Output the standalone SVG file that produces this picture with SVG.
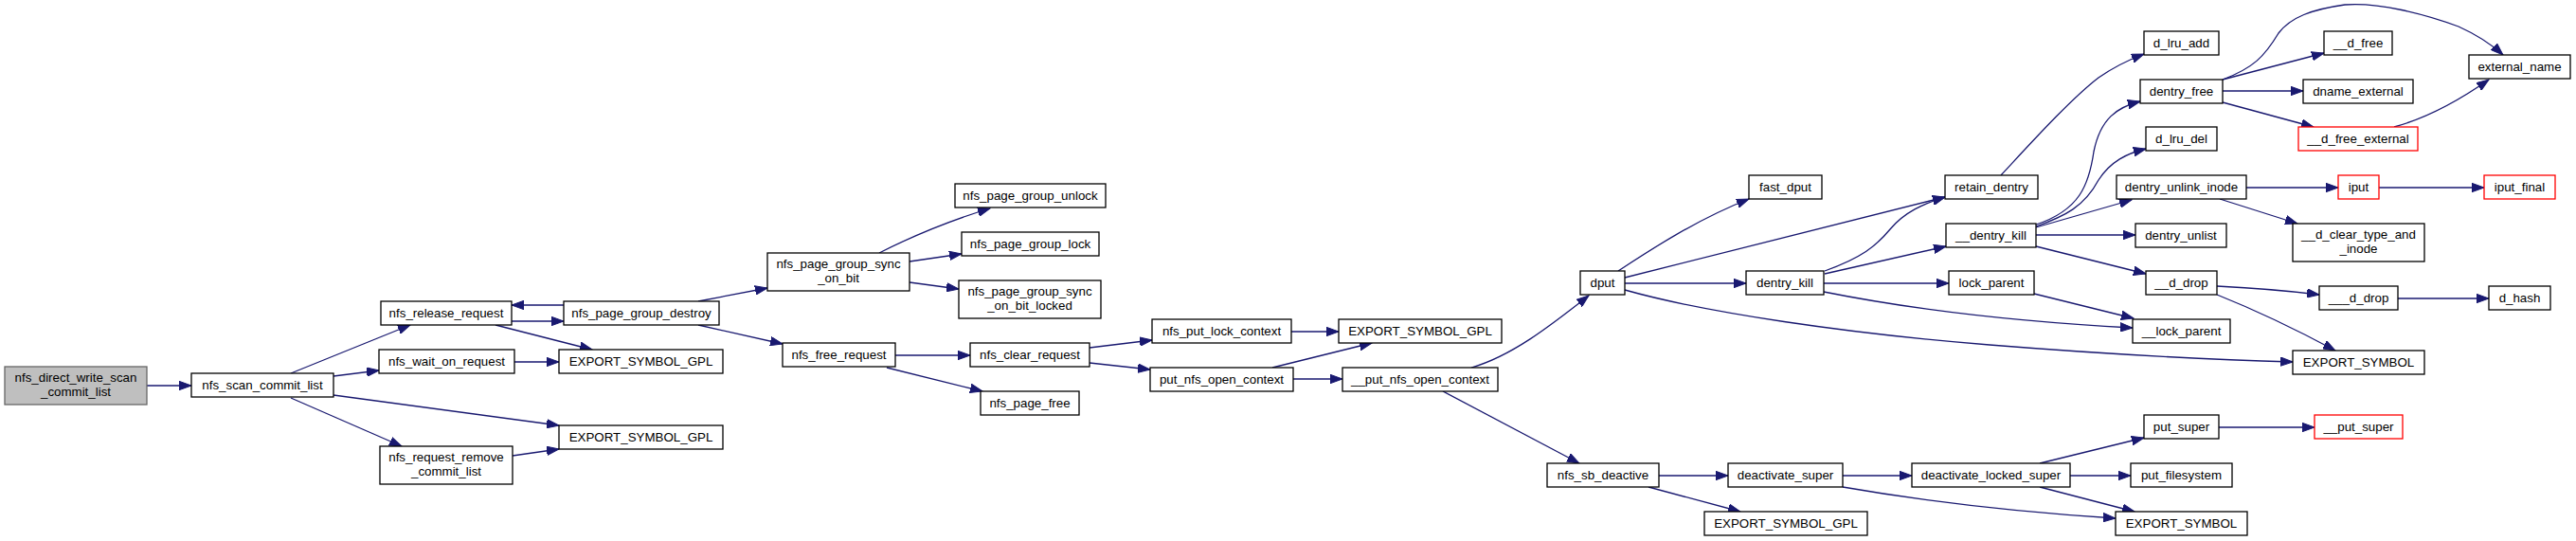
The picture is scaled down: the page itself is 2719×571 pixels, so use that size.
<svg xmlns="http://www.w3.org/2000/svg" width="2719" height="571" viewBox="0 0 2719 571">
<style>
.n rect{fill:#fff;stroke:#000;stroke-width:1.3}
.n.root rect{fill:#bfbfbf;stroke:#666}
.n.red rect{stroke:#ff0000}
.n text{font-family:"Liberation Sans",Arial,sans-serif;font-size:13.33px;fill:#000;text-anchor:middle}
.e path{fill:none;stroke:#191970;stroke-width:1.3;marker-end:url(#ah)}
</style>
<defs>
<marker id="ah" markerUnits="userSpaceOnUse" markerWidth="14" markerHeight="10" refX="13" refY="5" orient="auto">
<path d="M0,0.3 L13,5 L0,9.7 z" fill="#191970" stroke="#191970" stroke-width="1"/>
</marker>
</defs>
<rect width="2719" height="571" fill="#fff"/>
<g id="edges" class="e">
<path d="M155,407 L202,407"/>
<path d="M307,394 L433,343"/>
<path d="M352,397 L400,391"/>
<path d="M352,417 L590,449"/>
<path d="M307,420 L424,471"/>
<path d="M540,339 L595,339"/>
<path d="M595,322 L540,322"/>
<path d="M523,343 L625,369"/>
<path d="M543,382 L590,382"/>
<path d="M541,481 L590,474"/>
<path d="M737,318 L810,304"/>
<path d="M737,343 L826,363"/>
<path d="M928,267 Q985,238 1045,220"/>
<path d="M960,276 L1015,268"/>
<path d="M960,298 L1012,305"/>
<path d="M945,375 L1024,375"/>
<path d="M936,388 L1037,413"/>
<path d="M1150,367 L1216,359"/>
<path d="M1150,383 L1214,390"/>
<path d="M1363,350 L1413,350"/>
<path d="M1343,388 L1448,362"/>
<path d="M1365,400 L1417,400"/>
<path d="M1553,388 C1595,376 1635,345 1677,312"/>
<path d="M1523,413 L1667,489"/>
<path d="M1708,286 C1740,265 1790,232 1846,210"/>
<path d="M1715,293 L2053,208"/>
<path d="M1926,286 C1965,272 1980,260 1995,242 C2010,224 2030,215 2053,208"/>
<path d="M1926,289 L2054,260"/>
<path d="M1925,299 L2057,299"/>
<path d="M1925,308 C1990,321 2100,338 2251,346"/>
<path d="M1715,299 L1843,299"/>
<path d="M1715,306 C1800,330 1950,352 2100,364 C2250,376 2350,380 2420,382"/>
<path d="M2147,310 L2252,336"/>
<path d="M2149,237 C2195,222 2205,195 2210,160 C2217,125 2235,113 2259,107"/>
<path d="M2149,239 C2180,228 2200,218 2215,190 C2228,170 2245,162 2265,157"/>
<path d="M2149,240 L2250,211"/>
<path d="M2149,248 L2254,248"/>
<path d="M2149,260 L2265,289"/>
<path d="M1751,502 L1824,502"/>
<path d="M1740,514 L1837,540"/>
<path d="M1945,502 L2018,502"/>
<path d="M1945,514 C2020,527 2120,540 2233,547"/>
<path d="M2153,489 L2263,462"/>
<path d="M2185,502 L2249,502"/>
<path d="M2153,514 L2253,540"/>
<path d="M2342,451 L2443,451"/>
<path d="M2112,185 C2140,155 2185,105 2215,82 C2235,68 2250,62 2263,57"/>
<path d="M2346,84 L2453,56"/>
<path d="M2346,84 C2378,72 2390,60 2405,35 C2418,18 2440,10 2475,5 C2510,2 2560,15 2595,28 C2615,37 2630,47 2642,58"/>
<path d="M2346,96 L2431,96"/>
<path d="M2346,108 L2442,134"/>
<path d="M2527,134 C2560,125 2590,110 2627,84"/>
<path d="M2371,198 L2468,198"/>
<path d="M2511,198 L2622,198"/>
<path d="M2343,210 L2425,236"/>
<path d="M2340,302 Q2400,305 2448,311"/>
<path d="M2340,311 Q2400,335 2465,370"/>
<path d="M2531,315 L2627,315"/>
</g>
<g id="nfs_direct_write_scan_commit_list" class="n root"><rect x="5" y="387" width="150" height="40"/><text x="80" y="403">nfs_direct_write_scan</text><text x="80" y="418">_commit_list</text></g>
<g id="nfs_scan_commit_list" class="n"><rect x="202" y="394" width="150" height="25"/><text x="277" y="411">nfs_scan_commit_list</text></g>
<g id="nfs_release_request" class="n"><rect x="402" y="318" width="138" height="25"/><text x="471" y="335">nfs_release_request</text></g>
<g id="nfs_page_group_destroy" class="n"><rect x="595" y="318" width="164" height="25"/><text x="677" y="335">nfs_page_group_destroy</text></g>
<g id="nfs_wait_on_request" class="n"><rect x="400" y="369" width="143" height="25"/><text x="471.5" y="386">nfs_wait_on_request</text></g>
<g id="EXPORT_SYMBOL_GPL_1" class="n"><rect x="590" y="369" width="173" height="25"/><text x="676.5" y="386">EXPORT_SYMBOL_GPL</text></g>
<g id="EXPORT_SYMBOL_GPL_2" class="n"><rect x="590" y="449" width="173" height="25"/><text x="676.5" y="466">EXPORT_SYMBOL_GPL</text></g>
<g id="nfs_request_remove_commit_list" class="n"><rect x="401" y="471" width="140" height="40"/><text x="471" y="487">nfs_request_remove</text><text x="471" y="502">_commit_list</text></g>
<g id="nfs_page_group_sync_on_bit" class="n"><rect x="810" y="267" width="150" height="40"/><text x="885" y="283">nfs_page_group_sync</text><text x="885" y="298">_on_bit</text></g>
<g id="nfs_page_group_unlock" class="n"><rect x="1008" y="194" width="159" height="25"/><text x="1087.5" y="211">nfs_page_group_unlock</text></g>
<g id="nfs_page_group_lock" class="n"><rect x="1015" y="245" width="145" height="25"/><text x="1087.5" y="262">nfs_page_group_lock</text></g>
<g id="nfs_page_group_sync_on_bit_locked" class="n"><rect x="1012" y="296" width="150" height="40"/><text x="1087" y="312">nfs_page_group_sync</text><text x="1087" y="327">_on_bit_locked</text></g>
<g id="nfs_free_request" class="n"><rect x="826" y="362" width="119" height="25"/><text x="885.5" y="379">nfs_free_request</text></g>
<g id="nfs_clear_request" class="n"><rect x="1024" y="362" width="126" height="25"/><text x="1087" y="379">nfs_clear_request</text></g>
<g id="nfs_page_free" class="n"><rect x="1035" y="413" width="104" height="25"/><text x="1087" y="430">nfs_page_free</text></g>
<g id="nfs_put_lock_context" class="n"><rect x="1216" y="337" width="147" height="25"/><text x="1289.5" y="354">nfs_put_lock_context</text></g>
<g id="EXPORT_SYMBOL_GPL_3" class="n"><rect x="1413" y="337" width="172" height="25"/><text x="1499" y="354">EXPORT_SYMBOL_GPL</text></g>
<g id="put_nfs_open_context" class="n"><rect x="1214" y="388" width="151" height="25"/><text x="1289.5" y="405">put_nfs_open_context</text></g>
<g id="__put_nfs_open_context" class="n"><rect x="1417" y="388" width="164" height="25"/><text x="1499" y="405">__put_nfs_open_context</text></g>
<g id="dput" class="n"><rect x="1668" y="286" width="47" height="25"/><text x="1691.5" y="303">dput</text></g>
<g id="fast_dput" class="n"><rect x="1846" y="185" width="77" height="25"/><text x="1884.5" y="202">fast_dput</text></g>
<g id="dentry_kill" class="n"><rect x="1843" y="286" width="82" height="25"/><text x="1884" y="303">dentry_kill</text></g>
<g id="nfs_sb_deactive" class="n"><rect x="1633" y="489" width="118" height="25"/><text x="1692" y="506">nfs_sb_deactive</text></g>
<g id="deactivate_super" class="n"><rect x="1824" y="489" width="121" height="25"/><text x="1884.5" y="506">deactivate_super</text></g>
<g id="EXPORT_SYMBOL_GPL_4" class="n"><rect x="1799" y="540" width="172" height="25"/><text x="1885" y="557">EXPORT_SYMBOL_GPL</text></g>
<g id="retain_dentry" class="n"><rect x="2053" y="185" width="98" height="25"/><text x="2102" y="202">retain_dentry</text></g>
<g id="__dentry_kill" class="n"><rect x="2054" y="236" width="95" height="25"/><text x="2101.5" y="253">__dentry_kill</text></g>
<g id="lock_parent" class="n"><rect x="2057" y="286" width="90" height="25"/><text x="2102" y="303">lock_parent</text></g>
<g id="deactivate_locked_super" class="n"><rect x="2018" y="489" width="167" height="25"/><text x="2101.5" y="506">deactivate_locked_super</text></g>
<g id="d_lru_add" class="n"><rect x="2263" y="33" width="79" height="25"/><text x="2302.5" y="50">d_lru_add</text></g>
<g id="dentry_free" class="n"><rect x="2259" y="84" width="87" height="25"/><text x="2302.5" y="101">dentry_free</text></g>
<g id="d_lru_del" class="n"><rect x="2265" y="134" width="75" height="25"/><text x="2302.5" y="151">d_lru_del</text></g>
<g id="dentry_unlink_inode" class="n"><rect x="2234" y="185" width="137" height="25"/><text x="2302.5" y="202">dentry_unlink_inode</text></g>
<g id="dentry_unlist" class="n"><rect x="2254" y="236" width="96" height="25"/><text x="2302" y="253">dentry_unlist</text></g>
<g id="__d_drop" class="n"><rect x="2265" y="286" width="75" height="25"/><text x="2302.5" y="303">__d_drop</text></g>
<g id="__lock_parent" class="n"><rect x="2251" y="337" width="103" height="25"/><text x="2302.5" y="354">__lock_parent</text></g>
<g id="put_super" class="n"><rect x="2263" y="438" width="79" height="25"/><text x="2302.5" y="455">put_super</text></g>
<g id="put_filesystem" class="n"><rect x="2249" y="489" width="107" height="25"/><text x="2302.5" y="506">put_filesystem</text></g>
<g id="EXPORT_SYMBOL_bottom" class="n"><rect x="2233" y="540" width="139" height="25"/><text x="2302.5" y="557">EXPORT_SYMBOL</text></g>
<g id="__d_free" class="n"><rect x="2453" y="33" width="72" height="25"/><text x="2489" y="50">__d_free</text></g>
<g id="dname_external" class="n"><rect x="2431" y="84" width="116" height="25"/><text x="2489" y="101">dname_external</text></g>
<g id="__d_free_external" class="n red"><rect x="2426" y="134" width="126" height="25"/><text x="2489" y="151">__d_free_external</text></g>
<g id="iput" class="n red"><rect x="2468" y="185" width="43" height="25"/><text x="2489.5" y="202">iput</text></g>
<g id="__d_clear_type_and_inode" class="n"><rect x="2420" y="236" width="139" height="40"/><text x="2489.5" y="252">__d_clear_type_and</text><text x="2489.5" y="267">_inode</text></g>
<g id="___d_drop" class="n"><rect x="2448" y="302" width="83" height="25"/><text x="2489.5" y="319">___d_drop</text></g>
<g id="EXPORT_SYMBOL_mid" class="n"><rect x="2420" y="370" width="139" height="25"/><text x="2489.5" y="387">EXPORT_SYMBOL</text></g>
<g id="__put_super" class="n red"><rect x="2443" y="438" width="93" height="25"/><text x="2489.5" y="455">__put_super</text></g>
<g id="external_name" class="n"><rect x="2606" y="58" width="107" height="25"/><text x="2659.5" y="75">external_name</text></g>
<g id="iput_final" class="n red"><rect x="2622" y="185" width="75" height="25"/><text x="2659.5" y="202">iput_final</text></g>
<g id="d_hash" class="n"><rect x="2627" y="302" width="65" height="25"/><text x="2659.5" y="319">d_hash</text></g>
</svg>
